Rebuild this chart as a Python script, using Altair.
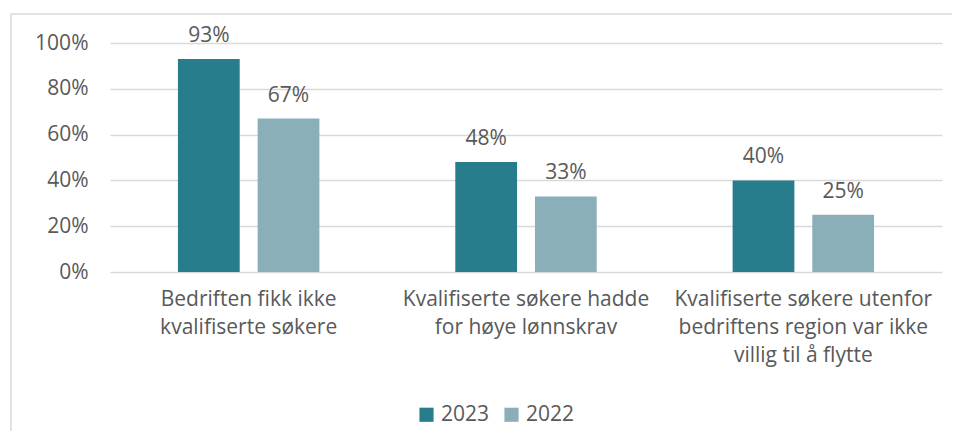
import altair as alt
import pandas as pd

categories = [
    "Bedriften fikk ikke|kvalifiserte søkere",
    "Kvalifiserte søkere hadde|for høye lønnskrav",
    "Kvalifiserte søkere utenfor|bedriftens region var ikke|villig til å flytte",
]
series = ["2023", "2022"]
values_2023 = [0.93, 0.48, 0.40]
values_2022 = [0.67, 0.33, 0.25]
colors = ["#277D8C", "#8AAFB9"]

rows = []
for c, v23, v22 in zip(categories, values_2023, values_2022):
    rows.append({"cat": c, "year": "2023", "val": v23})
    rows.append({"cat": c, "year": "2022", "val": v22})
df = pd.DataFrame(rows)

FONT = "Open Sans"
FS = 21
TXT = "#595959"
GRID = "#D9D9D9"

x = alt.X("cat:N", sort=categories, title=None,
          scale=alt.Scale(paddingInner=0.49, paddingOuter=0.245),
          axis=alt.Axis(labelExpr="split(datum.label, '|')", labelAngle=0,
                        labelFontSize=FS, labelColor=TXT, labelFont=FONT,
                        labelLineHeight=28, labelPadding=16, ticks=False,
                        domain=False, grid=False, labelBaseline="top",
                        labelLimit=400))
xo = alt.XOffset("year:N", sort=series,
                 scale=alt.Scale(paddingInner=0.225, paddingOuter=0))
y = alt.Y("val:Q", title=None,
          scale=alt.Scale(domain=[0, 1], nice=False),
          axis=alt.Axis(format=".0%", values=[0, 0.2, 0.4, 0.6, 0.8, 1.0],
                        labelFontSize=FS, labelColor=TXT, labelFont=FONT,
                        labelPadding=22, ticks=False, domain=False,
                        gridColor=GRID, gridWidth=1.5))
color = alt.Color("year:N", sort=series,
                  scale=alt.Scale(domain=series, range=colors),
                  legend=alt.Legend(title=None, orient="none", direction="horizontal",
                                    legendX=306, legendY=361,
                                    symbolType="square", symbolSize=200,
                                    symbolStrokeWidth=0, symbolOpacity=1,
                                    labelFontSize=FS, labelColor=TXT, labelFont=FONT,
                                    columnPadding=11, labelOffset=4))

border = alt.Chart(pd.DataFrame({"a": [0]})).mark_rect(
    fill=None, stroke=GRID, strokeWidth=1.5, clip=False
).encode(x=alt.value(-99), x2=alt.value(845), y=alt.value(-29), y2=alt.value(420))

bars = alt.Chart(df).mark_bar().encode(x=x, xOffset=xo, y=y, color=color)
labels = alt.Chart(df).mark_text(
    baseline="alphabetic", dy=-17, fontSize=FS, font=FONT, color=TXT
).encode(x=x, xOffset=xo, y=y, text=alt.Text("val:Q", format=".0%"))

chart = alt.layer(border, bars, labels).properties(
    width=832, height=229,
    autosize=alt.AutoSizeParams(type="none"),
    padding={"left": 102, "top": 35, "right": 10, "bottom": 159},
    background="white",
).configure_view(stroke=None)

chart.save("out.html", embed_options={"renderer": "svg", "actions": False})
